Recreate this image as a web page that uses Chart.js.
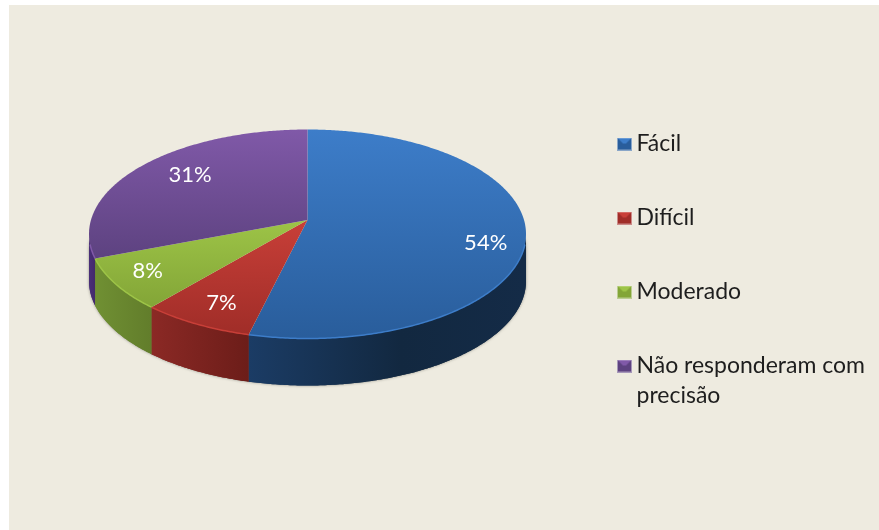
<!DOCTYPE html>
<html>
<head>
<meta charset="utf-8">
<title>Pie</title>
<style>
    html, body { margin: 0; padding: 0; background: #fff; }
    #panel { position: absolute; left: 9px; top: 5px; right: 0; bottom: 0; background: #eeebe0; }
    #wrap { position: absolute; left: 0; top: 0; width: 879px; height: 530px; overflow: hidden; }
    canvas { position: absolute; left: 0; top: 0; }
</style>
<script src="https://cdn.jsdelivr.net/npm/chart.js@4"></script>
</head>
<body>
<div id="wrap">
    <div id="panel"></div>
    <canvas id="pieChart" width="879" height="530"></canvas>
</div>
<script>
const categories = ['Fácil', 'Difícil', 'Moderado', ['Não responderam com', 'precisão']];
const percentages = [53.8, 7.4, 8, 30.8];

// Colours: top face gradient (light, dark), side gradient (left, right)
const topLight = ['#3d7dc9', '#c83f38', '#9dc447', '#8059a8'];
const topDark = ['#295d9b', '#a02d28', '#83a537', '#5d4280'];
const sideLeft = ['#1b3c65', '#8b2925', '#709033', '#4a2f78'];
const sideRight = ['#122840', '#6c1d19', '#627d2b', '#43296c'];

// Fake 3D look
const squash = 104.5 / 218.5;
const tilt = -0.134;
const depth = 47;
const labelShift = [[15, 14], [-5, 8], [-19, 4], [9, -4]];

function project(el, ratio, angle) {
    const u = Math.cos(angle) * ratio;
    const v = Math.sin(angle) * ratio;
    const w = 1 + tilt * v;
    return {
        x: el.x + el.outerRadius * u * Math.sqrt(1 - tilt * tilt) / w,
        y: el.y + el.outerRadius * squash * (v + tilt) / w
    };
}

function rimPoints(el) {
    const pts = [];
    const steps = Math.ceil((el.endAngle - el.startAngle) / 0.01);
    for (let i = 0; i <= steps; i++) {
        const a = el.startAngle + (el.endAngle - el.startAngle) * i / steps;
        pts.push(project(el, 1, a));
    }
    return pts;
}

function tracePath(ctx, pts) {
    pts.forEach(p => ctx.lineTo(p.x, p.y));
}

function drawSide(ctx, el, i) {
    const pts = rimPoints(el).filter(p => p.y >= el.y - 0.5);
    if (pts.length < 2) return;
    const xs = pts.map(p => p.x);
    const grad = ctx.createLinearGradient(Math.min(...xs), 0, Math.max(...xs), 0);
    grad.addColorStop(0, sideLeft[i]);
    grad.addColorStop(i === 0 ? 0.55 : 1, sideRight[i]);
    if (i === 0) grad.addColorStop(1, '#142b47');
    ctx.beginPath();
    tracePath(ctx, pts);
    tracePath(ctx, pts.slice().reverse().map(p => ({ x: p.x, y: p.y + depth })));
    ctx.closePath();
    ctx.fillStyle = grad;
    ctx.fill();
}

function drawTop(ctx, el, i) {
    const rim = rimPoints(el);
    const apex = project(el, 0, 0);
    const ys = rim.map(p => p.y).concat(apex.y);
    const grad = ctx.createLinearGradient(0, Math.min(...ys), 0, Math.max(...ys));
    grad.addColorStop(0, topLight[i]);
    grad.addColorStop(1, topDark[i]);
    ctx.beginPath();
    ctx.moveTo(apex.x, apex.y);
    tracePath(ctx, rim);
    ctx.closePath();
    ctx.fillStyle = grad;
    ctx.fill();
    // thin bright rim on the front edge
    ctx.beginPath();
    tracePath(ctx, rim.filter(p => p.y > el.y + 10));
    ctx.strokeStyle = topLight[i];
    ctx.lineWidth = 1.5;
    ctx.stroke();
}

const tiltedPie = {
    id: 'tiltedPie',
    afterLayout(chart) {
        // pie box and legend box
        Object.assign(chart.chartArea, { left: 89, right: 526, top: 15.5, bottom: 452.5, width: 437, height: 437 });
        const legend = chart.legend;
        const w = legend.width;
        const h = legend.height;
        legend.left = 624 - chart.options.plugins.legend.labels.padding;
        legend.right = legend.left + w;
        legend.top = 81.5;
        legend.bottom = legend.top + h;
    },
    beforeDatasetsDraw(chart) {
        const ctx = chart.ctx;
        const arcs = chart.getDatasetMeta(0).data;
        ctx.save();
        // soft edge under the body
        ctx.shadowColor = 'rgba(60, 60, 50, 0.55)';
        ctx.shadowBlur = 3;
        arcs.forEach((el, i) => drawSide(ctx, el, i));
        ctx.shadowColor = 'transparent';
        ctx.shadowBlur = 0;
        arcs.forEach((el, i) => drawSide(ctx, el, i));
        arcs.forEach((el, i) => drawTop(ctx, el, i));

        ctx.fillStyle = '#fff';
        ctx.font = '22px Lato';
        ctx.textAlign = 'center';
        ctx.textBaseline = 'middle';
        arcs.forEach((el, i) => {
            const p = project(el, 0.75, (el.startAngle + el.endAngle) / 2);
            ctx.fillText(Math.round(percentages[i]) + '%', p.x + labelShift[i][0], p.y + labelShift[i][1]);
        });
        ctx.restore();
        return false;
    }
};

// Small bevelled legend square
function legendIcon(i) {
    const c = document.createElement('canvas');
    c.width = 15;
    c.height = 13;
    const g = c.getContext('2d');
    g.fillStyle = topDark[i];
    g.fillRect(0, 0, 15, 13);
    g.fillStyle = topLight[i];
    g.beginPath();
    g.moveTo(0, 0);
    g.lineTo(15, 0);
    g.lineTo(9, 6);
    g.lineTo(6, 6);
    g.closePath();
    g.fill();
    g.strokeStyle = 'rgba(255, 255, 255, 0.45)';
    g.strokeRect(0.5, 0.5, 14, 12);
    return c;
}

function createPieChart() {
    const ctx = document.getElementById('pieChart');
    if (!ctx) return;

    new Chart(ctx, {
        type: 'pie',
        data: {
            labels: categories,
            datasets: [{
                data: percentages,
                backgroundColor: topLight,
                borderWidth: 0
            }]
        },
        options: {
            responsive: false,
            animation: false,
            plugins: {
                tooltip: { enabled: false },
                legend: {
                    position: 'right',
                    align: 'start',
                    labels: {
                        usePointStyle: true,
                        pointStyleWidth: 1,
                        boxHeight: 13,
                        padding: 51,
                        color: '#1e1e1e',
                        font: { family: 'Lato', size: 23, lineHeight: '30px' },
                        generateLabels: () => categories.map((text, i) => ({
                            text: text,
                            pointStyle: legendIcon(i),
                            fontColor: '#1e1e1e',
                            lineWidth: 0,
                            index: i
                        }))
                    }
                }
            }
        },
        plugins: [tiltedPie]
    });
}

createPieChart();
</script>
</body>
</html>
